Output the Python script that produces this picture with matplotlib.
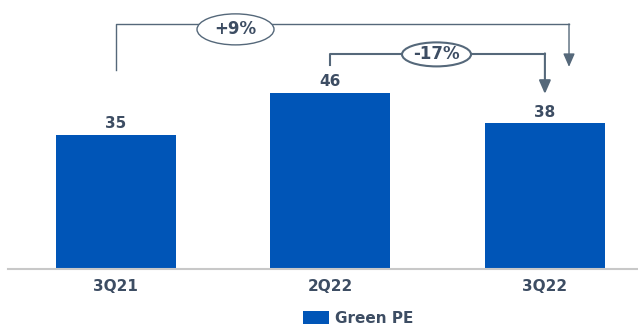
import matplotlib
matplotlib.use("Agg")
import matplotlib.pyplot as plt
from matplotlib.patches import Ellipse

categories = ["3Q21", "2Q22", "3Q22"]
values = [35, 46, 38]
series_name = "Green PE"
change_labels = ["+9%", "-17%"]

BAR = "#0055B7"
TXT = "#3D4D63"
LINE = "#55687A"

fig = plt.figure(figsize=(6.38, 3.24), dpi=100)
ax = fig.add_axes([8/638, 55/324, 630/638, 269/324])
x = list(range(len(categories)))
ax.bar(x, values, width=0.56, color=BAR, label=series_name, zorder=2)
ax.set_xlim(-0.503, 2.434)
ax.set_ylim(0, 70.2)
for s in ["top", "right", "left"]:
    ax.spines[s].set_visible(False)
ax.spines["bottom"].set_color("#C8C8C8")
ax.spines["bottom"].set_linewidth(1.5)
ax.set_yticks([])
ax.set_xticks(x)
ax.set_xticklabels(categories, fontsize=11, fontweight="bold", color=TXT)
ax.tick_params(axis="x", length=0, pad=7)

for xi, v in zip(x, values):
    ax.text(xi, v + 1.0, f"{v}", ha="center", va="bottom", fontsize=11,
            fontweight="bold", color=TXT)

# convert pixel positions to data
def py(p):
    return (269 - p) / 3.83

def px(p):
    return -0.503 + (p - 8) / 214.5

# +9% bracket
ax.plot([0, 0, px(569)], [py(70), py(24.5), py(24.5)], color=LINE, lw=1, clip_on=False)
ax.annotate("", xy=(px(569), py(67)), xytext=(px(569), py(24)),
            arrowprops=dict(arrowstyle="-|>,head_width=0.35,head_length=0.8",
                            color=LINE, lw=1, shrinkA=0, shrinkB=0))
e1 = Ellipse((px(235.5), py(29.5)), width=77/214.5, height=31/3.83,
             facecolor="white", edgecolor=LINE, lw=1, zorder=5, clip_on=False)
ax.add_patch(e1)
ax.text(px(235.5), py(29.5), change_labels[0], ha="center", va="center",
        fontsize=12, fontweight="bold", color=TXT, zorder=6)

# -17% bracket
ax.plot([1, 1, 2], [py(65), py(54), py(54)], color=LINE, lw=1.5, clip_on=False)
ax.annotate("", xy=(2, py(94)), xytext=(2, py(53.5)),
            arrowprops=dict(arrowstyle="-|>,head_width=0.35,head_length=0.8",
                            color=LINE, lw=1.5, shrinkA=0, shrinkB=0))
e2 = Ellipse((px(436.5), py(54.5)), width=69/214.5, height=24/3.83,
             facecolor="white", edgecolor=LINE, lw=1.5, zorder=5, clip_on=False)
ax.add_patch(e2)
ax.text(px(436.5), py(54.5), change_labels[1], ha="center", va="center",
        fontsize=12, fontweight="bold", color=TXT, zorder=6)

leg = fig.legend(loc="upper center", bbox_to_anchor=(0.562, 0.063), frameon=False,
                 prop=dict(size=11, weight="bold"), handlelength=1.7,
                 handleheight=1.0, borderpad=0, handletextpad=0.4)
for t in leg.get_texts():
    t.set_color(TXT)

fig.savefig("out.png", dpi=100)
